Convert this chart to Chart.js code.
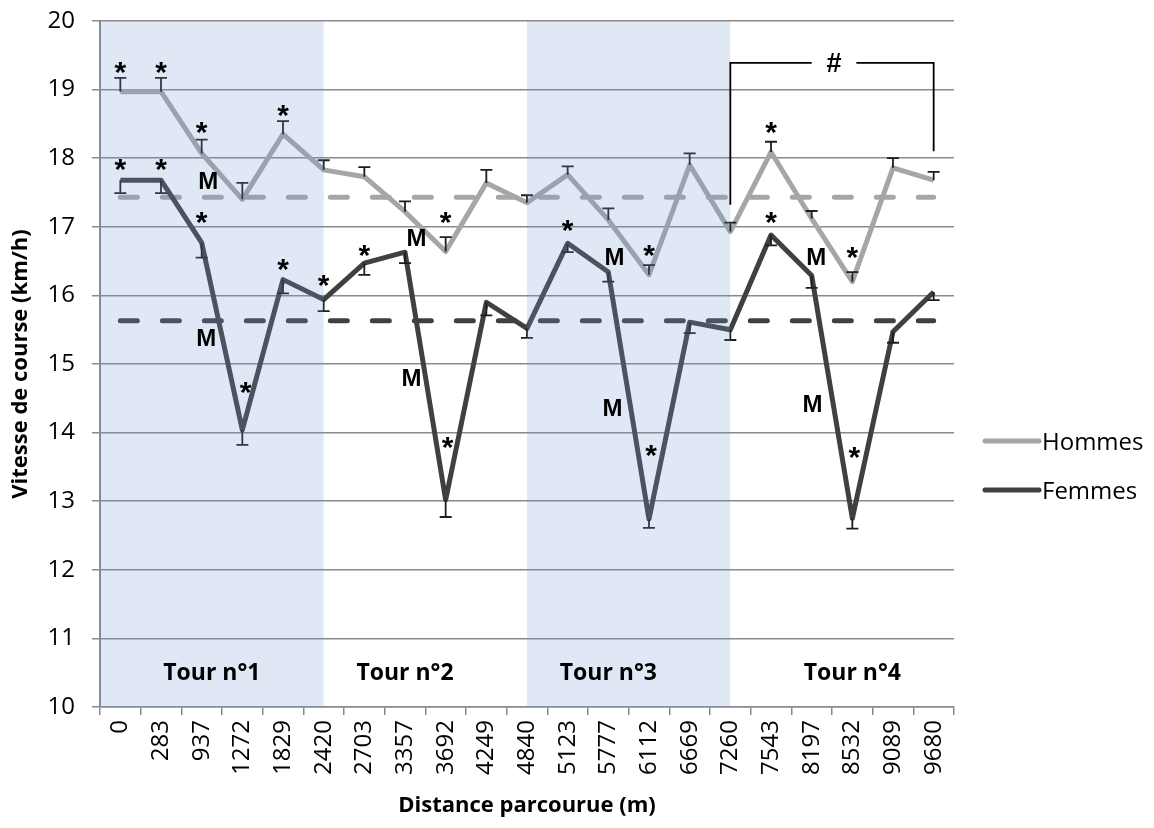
<!DOCTYPE html>
<html>
<head>
<meta charset="utf-8">
<script src="https://cdn.jsdelivr.net/npm/chart.js@4.4.1/dist/chart.umd.min.js"></script>
<style>
  html, body { margin: 0; padding: 0; background: #fff; }
  #wrap { width: 1154px; height: 828px; position: relative; }
</style>
</head>
<body>
<div id="wrap"><canvas id="speed"></canvas></div>
<script>
// distance markers (m)
const distances = ['0', '283', '937', '1272', '1829', '2420', '2703', '3357', '3692', '4249', '4840',
  '5123', '5777', '6112', '6669', '7260', '7543', '8197', '8532', '9089', '9680'];

// running speed (km/h)
const hommes = [18.97, 18.97, 18.07, 17.40, 18.35, 17.83, 17.73, 17.22, 16.64, 17.64, 17.35,
  17.76, 17.10, 16.30, 17.90, 16.93, 18.09, 17.12, 16.20, 17.86, 17.68];
const femmes = [17.68, 17.68, 16.77, 14.04, 16.23, 15.94, 16.47, 16.63, 13.02, 15.90, 15.52,
  16.76, 16.34, 12.74, 15.61, 15.50, 16.88, 16.29, 12.75, 15.47, 16.05];

// error bars (Hommes drawn upward, Femmes downward)
const errHommes = [0.20, 0.20, 0.20, 0.24, 0.19, 0.14, 0.14, 0.15, 0.21, 0.19, 0.11,
  0.12, 0.17, 0.14, 0.17, 0.13, 0.15, 0.11, 0.14, 0.14, 0.12];
const errFemmes = [0.19, 0.19, 0.22, 0.22, 0.20, 0.17, 0.17, 0.16, 0.25, 0.19, 0.14,
  0.13, 0.14, 0.13, 0.16, 0.15, 0.15, 0.18, 0.15, 0.16, 0.12];

const meanHommes = 17.43;
const meanFemmes = 15.63;

// laps: label, label position (category index), shaded ranges
const tours = ['Tour n°1', 'Tour n°2', 'Tour n°3', 'Tour n°4'];
const tourAt = [2.25, 7, 12, 18];
const tourValue = 10.51;
const shadedLaps = [[-0.5, 5], [10, 15]];

// significance marks [category index, value]
const starsHommes = [[0, 19.29], [1, 19.29], [2, 18.41], [4, 18.66], [8, 17.10], [13, 16.62], [16, 18.41], [18, 16.59]];
const starsFemmes = [[0, 17.87], [1, 17.87], [2, 17.10], [3.08, 14.62], [4, 16.41], [5, 16.18], [6, 16.62],
  [8.05, 13.82], [11, 16.98], [13.05, 13.70], [16, 17.10], [18.05, 13.67]];
const marksM = [[2.16, 17.67], [2.11, 15.38], [7.28, 16.85], [7.16, 14.80],
  [12.15, 16.56], [12.1, 14.36], [17.11, 16.57], [17.02, 14.42]];

// bracket over the last lap
const bracket = { from: 15, to: 20, top: 19.39, leftEnd: 17.32, rightEnd: 18.1, gapFrom: 17.0, gapTo: 18.1, label: '#' };

const colHommes = '#a6a6a6';
const colFemmes = '#404040';

const extras = {
  id: 'extras',
  afterDatasetsDraw(chart) {
    const { ctx, chartArea: a, scales: { x, y } } = chart;
    ctx.save();

    // error bars
    ctx.strokeStyle = '#1e1e1e';
    ctx.lineWidth = 1.8;
    const bar = (i, v0, v1) => {
      const px = x.getPixelForValue(i);
      const y0 = y.getPixelForValue(v0), y1 = y.getPixelForValue(v1);
      ctx.beginPath();
      ctx.moveTo(px, y0); ctx.lineTo(px, y1);
      ctx.moveTo(px - 6, y1); ctx.lineTo(px + 6, y1);
      ctx.stroke();
    };
    hommes.forEach((v, i) => bar(i, v, v + errHommes[i]));
    femmes.forEach((v, i) => bar(i, v, v - errFemmes[i]));

    // shaded laps, laid over the lines like the original
    ctx.fillStyle = 'rgba(110,150,205,0.22)';
    shadedLaps.forEach(([f, t]) => {
      const x0 = Math.max(a.left, x.getPixelForValue(f));
      const x1 = x.getPixelForValue(t);
      ctx.fillRect(x0, a.top, x1 - x0, a.bottom - a.top);
    });

    ctx.fillStyle = '#000';
    ctx.textAlign = 'center';
    ctx.textBaseline = 'alphabetic';

    // lap labels
    ctx.font = 'bold 23px "Open Sans"';
    tours.forEach((t, k) => ctx.fillText(t, x.getPixelForValue(tourAt[k]), y.getPixelForValue(tourValue) + 8));

    // stars
    ctx.font = 'bold 30px "Liberation Sans"';
    starsHommes.concat(starsFemmes).forEach(([i, v]) => ctx.fillText('*', x.getPixelForValue(i), y.getPixelForValue(v) + 12));

    // M
    ctx.font = 'bold 24px "Liberation Sans"';
    marksM.forEach(([i, v]) => ctx.fillText('M', x.getPixelForValue(i), y.getPixelForValue(v) + 8.5));

    // bracket with #
    const bl = x.getPixelForValue(bracket.from), br = x.getPixelForValue(bracket.to);
    const bt = y.getPixelForValue(bracket.top);
    ctx.strokeStyle = '#000';
    ctx.lineWidth = 1.8;
    ctx.beginPath();
    ctx.moveTo(bl, y.getPixelForValue(bracket.leftEnd));
    ctx.lineTo(bl, bt);
    ctx.lineTo(x.getPixelForValue(bracket.gapFrom), bt);
    ctx.moveTo(x.getPixelForValue(bracket.gapTo), bt);
    ctx.lineTo(br, bt);
    ctx.lineTo(br, y.getPixelForValue(bracket.rightEnd));
    ctx.stroke();
    ctx.font = 'bold 27px "Liberation Sans"';
    ctx.fillText(bracket.label, x.getPixelForValue((bracket.gapFrom + bracket.gapTo) / 2), bt + 9.5);

    ctx.restore();
  },
  afterDraw(chart) {
    // legend on the right
    const { ctx } = chart;
    ctx.save();
    const items = [['Hommes', colHommes, 441], ['Femmes', colFemmes, 490]];
    items.forEach(([name, col, yy]) => {
      ctx.strokeStyle = col;
      ctx.lineWidth = 5;
      ctx.lineCap = 'round';
      ctx.beginPath();
      ctx.moveTo(985, yy); ctx.lineTo(1039, yy);
      ctx.stroke();
      ctx.fillStyle = '#000';
      ctx.font = '24px "Open Sans"';
      ctx.textAlign = 'left';
      ctx.textBaseline = 'alphabetic';
      ctx.fillText(name, 1042, yy + 8.5);
    });
    ctx.restore();
  }
};

const gridCol = '#8a8a8a';

new Chart(document.getElementById('speed'), {
  type: 'line',
  data: {
    labels: distances,
    datasets: [
      { label: 'Hommes', data: hommes, borderColor: colHommes, borderWidth: 5 },
      { label: 'Femmes', data: femmes, borderColor: colFemmes, borderWidth: 5 },
      { label: 'Moyenne Hommes', data: distances.map(() => meanHommes), borderColor: colHommes, borderWidth: 5,
        borderDash: [17, 25], borderCapStyle: 'round' },
      { label: 'Moyenne Femmes', data: distances.map(() => meanFemmes), borderColor: colFemmes, borderWidth: 5,
        borderDash: [17, 25], borderCapStyle: 'round' }
    ]
  },
  options: {
    responsive: true,
    maintainAspectRatio: false,
    animation: false,
    layout: { padding: { top: 21, right: 200, left: 0, bottom: 0 } },
    elements: {
      point: { radius: 0, hoverRadius: 0 },
      line: { tension: 0, borderJoinStyle: 'round', fill: false }
    },
    plugins: { legend: { display: false }, tooltip: { enabled: false } },
    scales: {
      x: {
        offset: true,
        afterFit(s) { s.height = 121; },
        grid: { drawOnChartArea: false, offset: true, tickLength: 8, color: gridCol, lineWidth: 1.5 },
        border: { color: gridCol, width: 1.5 },
        ticks: { minRotation: 90, maxRotation: 90, autoSkip: false, padding: 5, color: '#000',
          font: { family: 'Open Sans', size: 24 } },
        title: { display: true, text: 'Distance parcourue (m)', color: '#000', padding: { top: 9, bottom: 9 },
          font: { family: 'Open Sans', size: 22, weight: 'bold' } }
      },
      y: {
        min: 10,
        max: 20,
        afterFit(s) { s.width = 100; s.paddingTop = 0; s.paddingBottom = 0; },
        grid: { color: gridCol, lineWidth: 1.5, tickLength: 8 },
        border: { color: gridCol, width: 2 },
        ticks: { stepSize: 1, padding: 17, color: '#000', font: { family: 'Open Sans', size: 24 } },
        title: { display: true, text: 'Vitesse de course (km/h)', color: '#000', padding: { top: 8, bottom: 8 },
          font: { family: 'Open Sans', size: 22, weight: 'bold' } }
      }
    }
  },
  plugins: [extras]
});
</script>
</body>
</html>
